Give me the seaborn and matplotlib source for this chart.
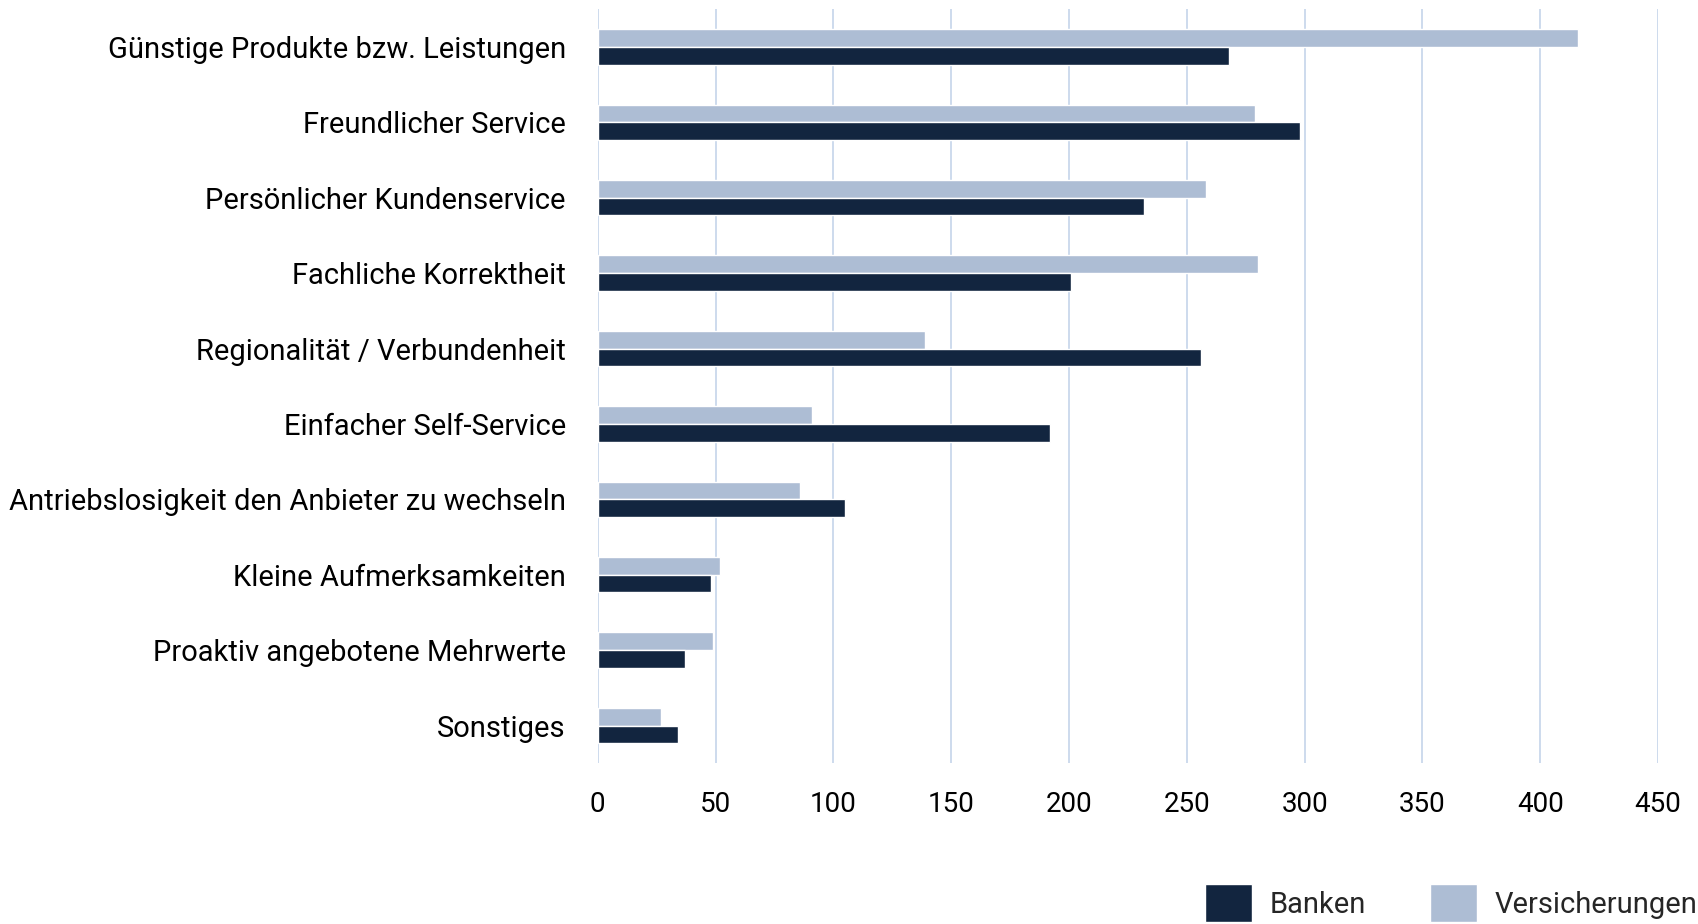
import numpy as np
import pandas as pd
import matplotlib
matplotlib.use("Agg")
import matplotlib.pyplot as plt
from matplotlib.patches import Patch
import seaborn as sns

categories = [
    "Günstige Produkte bzw. Leistungen",
    "Freundlicher Service",
    "Persönlicher Kundenservice",
    "Fachliche Korrektheit",
    "Regionalität / Verbundenheit",
    "Einfacher Self-Service",
    "Antriebslosigkeit den Anbieter zu wechseln",
    "Kleine Aufmerksamkeiten",
    "Proaktiv angebotene Mehrwerte",
    "Sonstiges",
]
banken = [268, 298, 232, 201, 256, 192, 105, 48, 37, 34]
versicherungen = [416, 279, 258, 280, 139, 91, 86, 52, 49, 27]
series = ["Versicherungen", "Banken"]
colors = {"Banken": "#12253f", "Versicherungen": "#adbdd4"}
x_ticks = [0, 50, 100, 150, 200, 250, 300, 350, 400, 450]

df = pd.DataFrame({
    "Kategorie": categories * 2,
    "Serie": ["Versicherungen"] * len(categories) + ["Banken"] * len(categories),
    "Wert": versicherungen + banken,
})

sns.set_theme(style="white")
plt.rcParams["font.family"] = ["Roboto", "DejaVu Sans"]

fig = plt.figure(figsize=(16.98, 9.24), dpi=100)
ax = fig.add_axes([0.352, 0.174, 0.6245, 0.816])

sns.barplot(data=df, y="Kategorie", x="Wert", hue="Serie", order=categories,
            hue_order=series, palette=colors, orient="h", width=0.47,
            saturation=1, ax=ax, legend=False)

ax.set_xlim(0, 450)
ax.set_ylim(9.5, -0.5)
ax.set_xticks(x_ticks)
ax.set_xlabel("")
ax.set_ylabel("")
ax.xaxis.grid(True, color="#c9d8ec", linewidth=1.3)
ax.set_axisbelow(True)
for s in ax.spines.values():
    s.set_visible(False)
ax.tick_params(axis="y", labelsize=21, pad=23, length=0, labelcolor="black")
ax.tick_params(axis="x", labelsize=20, pad=20, length=0, labelcolor="black")

handles = [Patch(facecolor=colors["Banken"]), Patch(facecolor=colors["Versicherungen"])]
fig.legend(handles, ["Banken", "Versicherungen"], loc="lower right",
           bbox_to_anchor=(1.015, -0.026), ncol=2, frameon=False, fontsize=21,
           handlelength=1.6, handleheight=1.6, columnspacing=2.2, handletextpad=0.6)

fig.savefig("out.png", dpi=100)
